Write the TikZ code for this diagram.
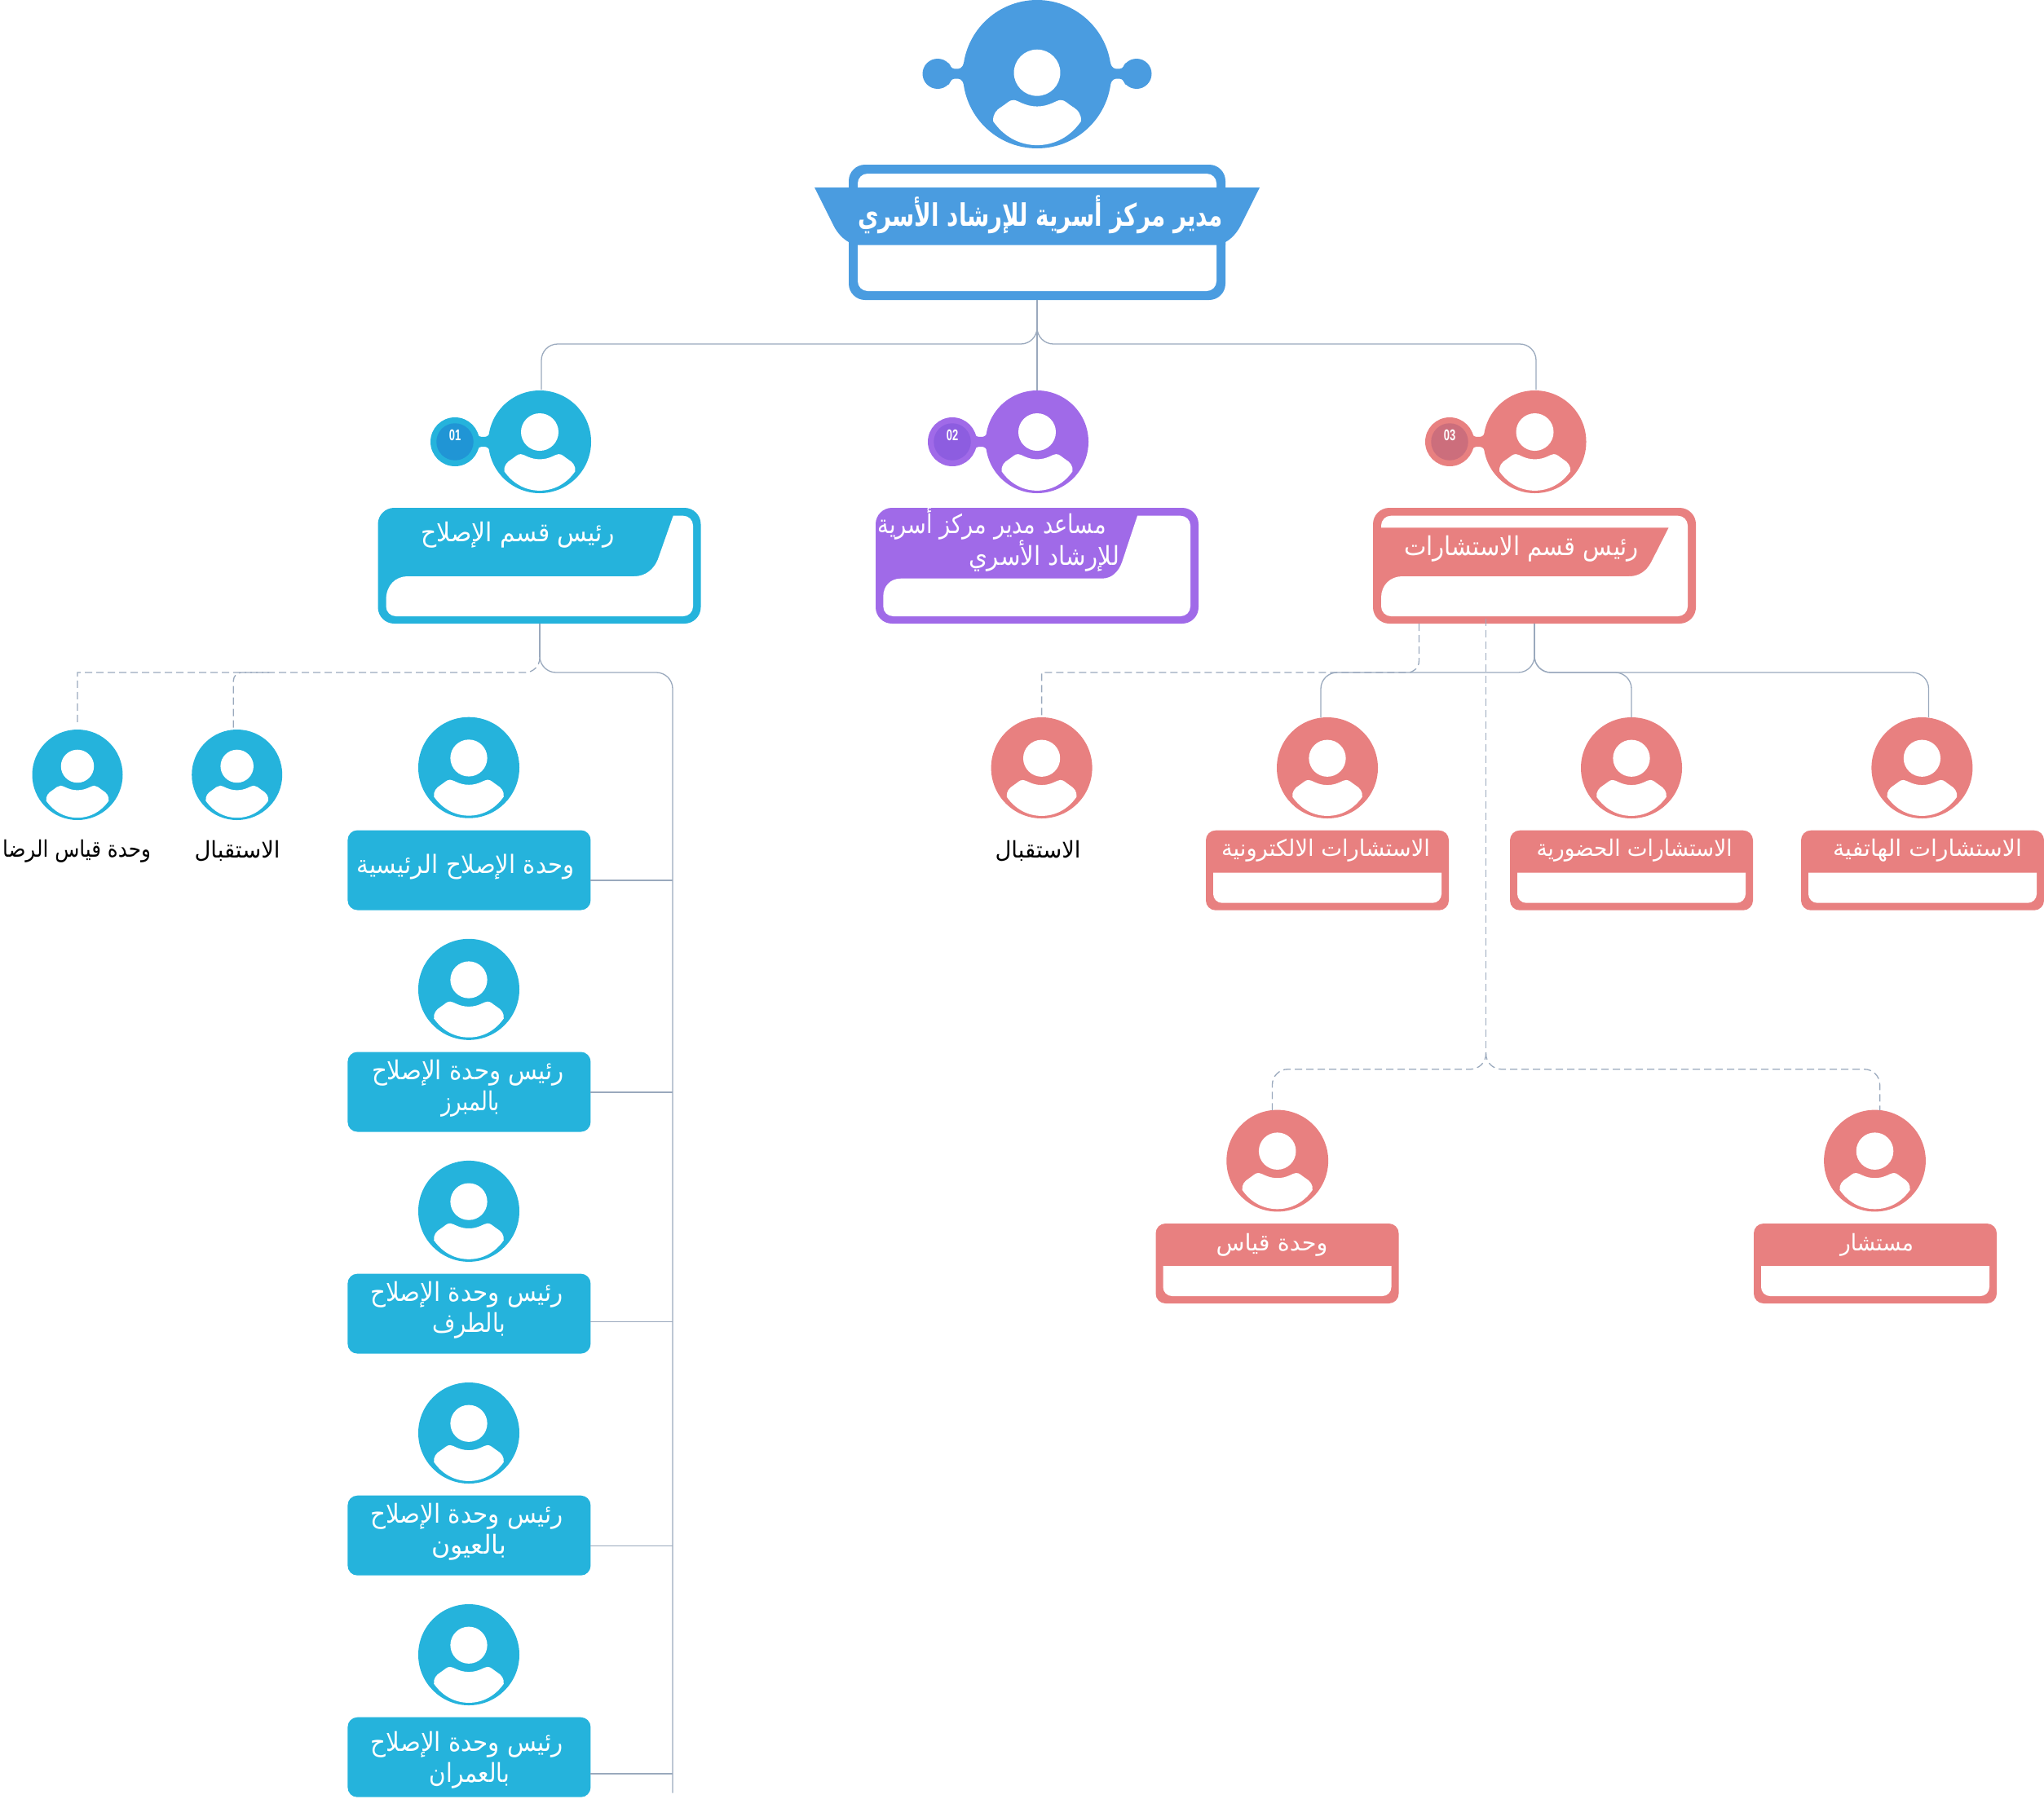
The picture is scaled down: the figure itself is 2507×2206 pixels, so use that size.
\documentclass[tikz,border=0pt]{standalone}
\usepackage{fontspec}
\usepackage{graphicx}
\TeXXeTstate=1
\newfontfamily\arabicfont[Script=Arabic]{DejaVu Sans}
\newfontfamily\numfont{Liberation Sans}
\definecolor{cRoot}{HTML}{4A9CE0}
\definecolor{cBlue}{HTML}{25B3DC}
\definecolor{cBlueIn}{HTML}{2095D5}
\definecolor{cPurple}{HTML}{A06AE8}
\definecolor{cPurpleIn}{HTML}{8D5DE0}
\definecolor{cRed}{HTML}{E88080}
\definecolor{cRedIn}{HTML}{CC6E7C}
\definecolor{cLine}{HTML}{9AA9BD}
\tikzset{
  conn/.style={draw=cLine,line width=1.3pt,rounded corners=20pt},
  dashconn/.style={draw=cLine,line width=1.3pt,dash pattern=on 9pt off 5pt},
  stem/.style={draw=cLine,line width=1.5pt},
  avatarbase/.style={circle,inner sep=0pt,outer sep=0pt},
  cardbase/.style={rectangle,inner sep=0pt,outer sep=0pt,minimum width=298pt,minimum height=98pt,rounded corners=12pt},
  deptbox/.style={rectangle,inner sep=0pt,outer sep=0pt,minimum width=396pt,minimum height=142pt,rounded corners=20pt},
  txt/.style={inner sep=0pt,outer sep=0pt,anchor=center}
}
% name, cx, cy, r, colour, figure scale, figure shift
\newcommand{\avatar}[7]{%
  \node[avatarbase,fill=#5,minimum size=#4*2pt] (#1) at (#2,#3) {};
  \begin{scope}[shift={(#2,#3+#4*#7)},x=#4*#6 pt,y=-#4*#6 pt]
    \fill[white] (0,-.19) circle[radius=.365];
    \fill[white] (-.69,.575) .. controls (-.70,.47) and (-.65,.40) .. (-.55,.34)
      .. controls (-.47,.29) and (-.44,.24) .. (-.37,.24)
      .. controls (-.30,.24) and (-.20,.34) .. (0,.34)
      .. controls (.20,.34) and (.30,.24) .. (.37,.24)
      .. controls (.44,.24) and (.47,.29) .. (.55,.34)
      .. controls (.65,.40) and (.70,.47) .. (.69,.575)
      .. controls (.52,.82) and (.27,.95) .. (0,.95)
      .. controls (-.27,.95) and (-.52,.82) .. (-.69,.575) -- cycle;
  \end{scope}}
% xc, cy, colour
\newcommand{\neckshape}[3]{%
  \fill[#3] (#1-9,#2-13) .. controls (#1-7,#2-6) and (#1-3,#2-6) .. (#1,#2-6)
    .. controls (#1+3,#2-6) and (#1+7,#2-6) .. (#1+9,#2-13) -- (#1+12,#2-13) -- (#1+12,#2+13) -- (#1+9,#2+13)
    .. controls (#1+7,#2+6) and (#1+3,#2+6) .. (#1,#2+6)
    .. controls (#1-3,#2+6) and (#1-7,#2+6) .. (#1-9,#2+13) -- (#1-12,#2+13) -- (#1-12,#2-13) -- cycle;}
% name, sx, cy, neck x, outer, inner, label
\newcommand{\satnum}[7]{%
  \neckshape{#4}{#3}{#5}
  \node[avatarbase,fill=#5,minimum size=60pt] (#1) at (#2,#3) {};
  \node[avatarbase,fill=#6,minimum size=45.5pt] (#1in) at (#2,#3) {};
  \node[txt,text=white] (#1t) at (#2,#3-8) {\numfont\bfseries\fontsize{19}{19}\selectfont\scalebox{.68}[1]{#7}};}
% name, left, top : card with a white panel in its lower part
\newcommand{\redcard}[3]{%
  \node[cardbase,fill=cRed] (#1) at (#2+149,#3+49) {};
  \fill[white] (#2+9,#3+52) -- (#2+289,#3+52) [rounded corners=11pt] -- (#2+289,#3+89) -- (#2+9,#3+89) [sharp corners] -- cycle;}
% name, x, y, width, colour, font size, text
\newcommand{\arnode}[7]{%
  \node[txt,text=#5] (#1) at (#2,#3) {\resizebox{#4pt}{\height}{\fontsize{#6}{#6}\arabicfont\selectfont #7}};}
\newcommand{\arbold}[7]{%
  \node[txt,text=#5] (#1) at (#2,#3) {\resizebox{#4pt}{\height}{\fontsize{#6}{#6}\arabicfont\bfseries\selectfont #7}};}
\begin{document}
\begin{tikzpicture}[x=1pt,y=-1pt]
\useasboundingbox (0,0) rectangle (2507,2206);
% root
\fill[cRoot] (1150,90.5) circle[radius=18.5];
\fill[cRoot] (1394,90.5) circle[radius=18.5];
\neckshape{1173}{90.5}{cRoot}
\neckshape{1371}{90.5}{cRoot}
\avatar{avroot}{1272}{91}{91}{cRoot}{.857}{.143}
\node[deptbox,fill=cRoot,minimum width=462pt,minimum height=166pt] (root) at (1272,285) {};
\fill[white,rounded corners=12pt] (1052,213) rectangle (1492,357);
\fill[cRoot] (999,230) -- (1545,230) -- (1521,278) .. controls (1516,287) and (1510,293) .. (1503,297)
  -- (1503,300.7) -- (1041,300.7) -- (1041,297) .. controls (1034,293) and (1028,287) .. (1023,278) -- cycle;
\arbold{troot}{1276}{263}{448}{white}{38}{\beginR مدير مركز أسرية للإرشاد الأسري\endR}
% department 01
\satnum{s1}{558}{542}{592.7}{cBlue}{cBlueIn}{01}
\avatar{av1}{662}{542}{63}{cBlue}{1}{0}
\node[deptbox,fill=cBlue] (d1) at (661.5,694) {};
\fill[white] (825.7,632.7) [rounded corners=12pt] -- (850,632.7) -- (850,756) -- (473.5,756) [sharp corners] -- (473.5,736)
  .. controls (473.5,718) and (485,707) .. (500,707) -- (778,707) .. controls (792,707) and (802,698) .. (806.7,686.7) -- cycle;
\arnode{td1}{635}{656}{237}{white}{32}{\beginR رئيس قسم الإصلاح\endR}
% department 02
\satnum{s2}{1168}{542}{1202.7}{cPurple}{cPurpleIn}{02}
\avatar{av2}{1272}{542}{63}{cPurple}{1}{0}
\node[deptbox,fill=cPurple] (d2) at (1272,694) {};
\fill[white] (1395,632.7) [rounded corners=12pt] -- (1460,632.7) -- (1460,756) -- (1083.3,756) [sharp corners] -- (1083.3,731.7)
  .. controls (1083.3,719) and (1092,709.7) .. (1105,709.7) -- (1351.7,709.7) .. controls (1364,709.7) and (1372,701) .. (1376,690) -- cycle;
\arnode{td2a}{1216.7}{642}{280}{white}{32}{\beginR مساعد مدير مركز أسرية\endR}
\arnode{td2b}{1280.5}{682}{185}{white}{32}{\beginR للإرشاد الأسري\endR}
% department 03
\satnum{s3}{1778}{542}{1813}{cRed}{cRedIn}{03}
\avatar{av3}{1882.5}{542}{63}{cRed}{1}{0}
\node[deptbox,fill=cRed] (d3) at (1882,694) {};
\fill[white] (1694,647.3) [rounded corners=12pt] -- (1694,632.7) -- (2070,632.7) -- (2070,756) -- (1694,756) [sharp corners] -- (1694,733)
  .. controls (1694,718) and (1705,707) .. (1720,707) -- (1998,707) .. controls (2010,707) and (2019,701) .. (2025,690) -- (2046.7,647.3) -- cycle;
\arnode{td3}{1866}{673}{288}{white}{32}{\beginR رئيس قسم الاستشارات\endR}
% blue column
\avatar{a11}{575}{941.7}{62}{cBlue}{1}{0}
\node[cardbase,fill=cBlue] (b1) at (575.4,1067.5) {};
\arnode{tb1}{571}{1063}{267}{white}{31}{\beginR وحدة الإصلاح الرئيسية\endR}
\avatar{a12}{575}{1213.8}{62}{cBlue}{1}{0}
\node[cardbase,fill=cBlue] (b2) at (575.4,1339.5) {};
\arnode{tb2a}{574}{1316}{236}{white}{32}{\beginR رئيس وحدة الإصلاح\endR}
\arnode{tb2b}{577}{1354}{72}{white}{32}{\beginR بالمبرز\endR}
\avatar{a13}{575}{1485.9}{62}{cBlue}{1}{0}
\node[cardbase,fill=cBlue] (b3) at (575.4,1611.6) {};
\arnode{tb3a}{572.5}{1588}{236}{white}{32}{\beginR رئيس وحدة الإصلاح\endR}
\arnode{tb3b}{575}{1626}{90}{white}{32}{\beginR بالطرف\endR}
\avatar{a14}{575}{1758}{62}{cBlue}{1}{0}
\node[cardbase,fill=cBlue] (b4) at (575.4,1883.7) {};
\arnode{tb4a}{572.5}{1860}{236}{white}{32}{\beginR رئيس وحدة الإصلاح\endR}
\arnode{tb4b}{575}{1898}{92}{white}{32}{\beginR بالعيون\endR}
\avatar{a15}{575}{2030}{62}{cBlue}{1}{0}
\node[cardbase,fill=cBlue] (b5) at (575.4,2155.7) {};
\arnode{tb5a}{572.8}{2140}{236}{white}{32}{\beginR رئيس وحدة الإصلاح\endR}
\arnode{tb5b}{575.8}{2178}{98}{white}{32}{\beginR بالعمران\endR}
% blue loose avatars
\avatar{a16}{95}{950.5}{55.5}{cBlue}{1}{0}
\arnode{ta16}{94}{1044}{182}{black}{28}{\beginR وحدة قياس الرضا\endR}
\avatar{a17}{290.7}{950.5}{55.5}{cBlue}{1}{0}
\arnode{ta17}{291}{1044}{105}{black}{28}{\beginR الاستقبال\endR}
% red first row
\avatar{r0}{1277.6}{942}{62}{cRed}{1}{0}
\arnode{tr0}{1273}{1044}{105}{black}{28}{\beginR الاستقبال\endR}
\avatar{r1}{1628}{942}{62}{cRed}{1}{0}
\redcard{cr1}{1479}{1018.7}
\arnode{tr1}{1626}{1043}{256}{white}{28}{\beginR الاستشارات الالكترونية\endR}
\avatar{r2}{2001}{942}{62}{cRed}{1}{0}
\redcard{cr2}{1852}{1018.7}
\arnode{tr2}{2004.6}{1043}{240}{white}{28}{\beginR الاستشارات الحضورية\endR}
\avatar{r3}{2357.4}{942}{62}{cRed}{1}{0}
\redcard{cr3}{2209}{1018.7}
\arnode{tr3}{2364}{1043}{232}{white}{28}{\beginR الاستشارات الهاتفية\endR}
% red second row
\avatar{r4}{1566.7}{1424}{62.4}{cRed}{1}{0}
\redcard{cr4}{1417.5}{1501}
\arnode{tr4}{1560}{1527}{137}{white}{28}{\beginR وحدة قياس\endR}
\avatar{r5}{2299.5}{1424}{62.4}{cRed}{1}{0}
\redcard{cr5}{2151}{1501}
\arnode{tr5}{2302}{1527}{90}{white}{28}{\beginR مستشار\endR}
% connector end points
\coordinate (rootfork) at (1272,405);
\coordinate (d1fork) at (662,806);
\coordinate (d3fork) at (1882,805);
\coordinate (d3split) at (1822.5,1291);
\coordinate (d3dashtop) at (1822.5,759);
\coordinate (d3dashleft) at (1740.4,765);
\coordinate (endA) at (95,888);
\coordinate (endB) at (286.3,895);
\coordinate (busB) at (330,825);
\coordinate (endC) at (825,2199.5);
\coordinate (endD) at (1620,880);
\coordinate (endE) at (2365.5,880);
\coordinate (endF) at (1560.5,1362);
\coordinate (endG) at (2305.6,1362);
% root connectors
\draw[stem] (root.south) -- (rootfork);
\draw[conn] (rootfork) -- (1272,422) -- (664,422) -- (664,478);
\draw[conn] (rootfork) -- (1272,422) -- (1884,422) -- (1884,478);
\draw[stem] (rootfork) -- (av2.north);
% department 01 connectors
\draw[stem] (d1.south -| d1fork) -- (d1fork);
\draw[dashconn] (d1fork) [rounded corners=18pt] -- (662,825) -- (400,825) [sharp corners] -- (95,825) -- (endA);
\draw[dashconn,rounded corners=10pt] (busB) -- (286.3,825) -- (endB);
\draw[conn] (d1fork) -- (662,825) -- (825,825) -- (endC);
\draw[stem] (b1.east |- 0,1080) -- (825,1080);
\draw[stem] (b2.east |- 0,1340) -- (825,1340);
\draw[stem] (b3.east |- 0,1621.6) -- (825,1621.6);
\draw[stem] (b4.east |- 0,1896.5) -- (825,1896.5);
\draw[stem] (b5.east |- 0,2176) -- (825,2176);
% department 03 connectors
\draw[stem] (d3.south -| d3fork) -- (d3fork);
\draw[conn] (d3fork) -- (1882,825) -- (1620,825) -- (endD);
\draw[conn] (d3fork) -- (1882,825) -- (2001,825) -- (r2.north);
\draw[conn] (d3fork) -- (1882,825) -- (2365.5,825) -- (endE);
\draw[dashconn] (d3dashleft) [rounded corners=14pt] -- (1740.4,825) -- (1500,825) [sharp corners] -- (1277.6,825) -- (r0.north);
\draw[dashconn] (d3dashtop) -- (d3split);
\draw[dashconn,rounded corners=19pt] (d3split) -- (1822.5,1311.7) -- (1560.5,1311.7) -- (endF);
\draw[dashconn,rounded corners=19pt] (d3split) -- (1822.5,1311.7) -- (2305.6,1311.7) -- (endG);
\end{tikzpicture}
\end{document}
